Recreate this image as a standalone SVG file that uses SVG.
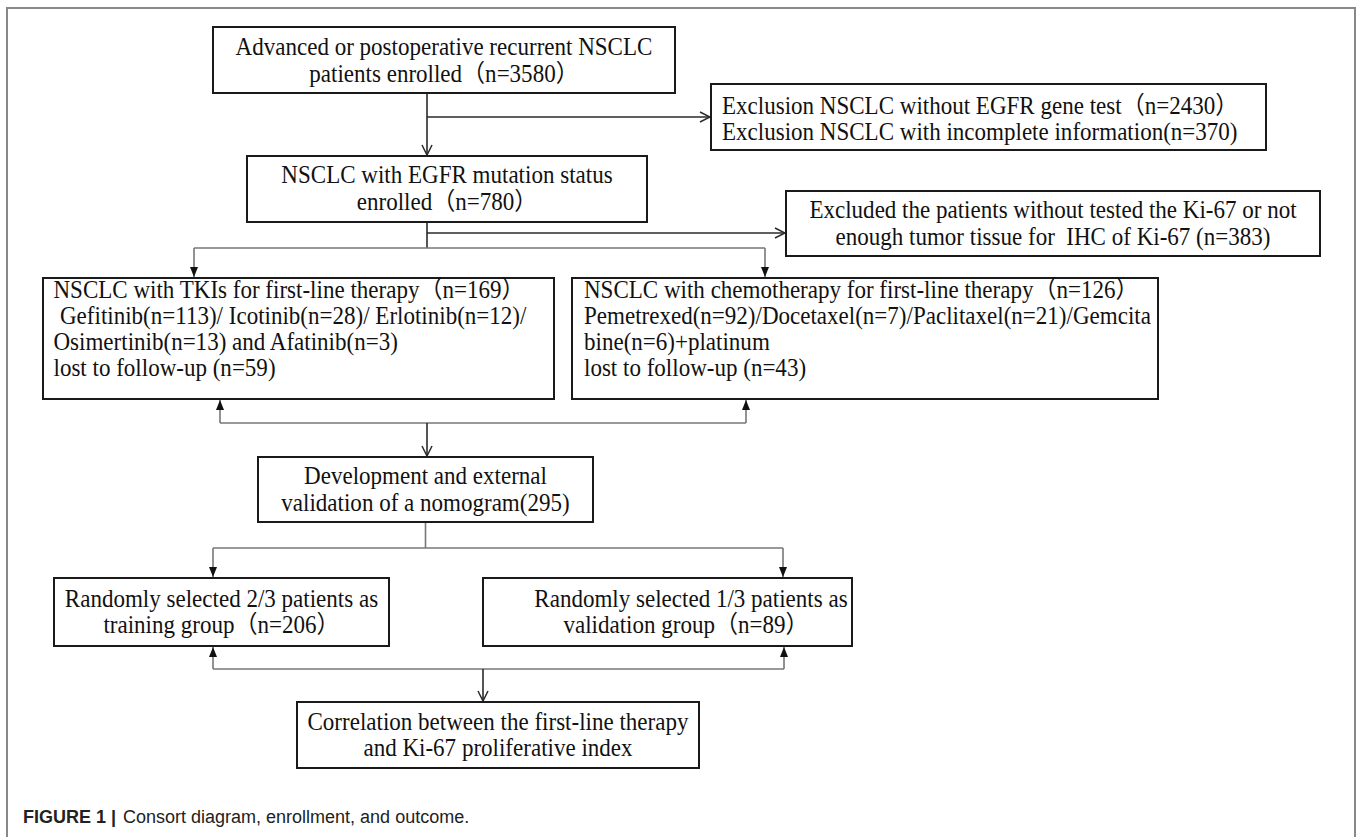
<svg xmlns="http://www.w3.org/2000/svg" width="1357" height="837" viewBox="0 0 1357 837">
<style>
.box{fill:#fff;stroke:#1a1a1a;stroke-width:2}
.t{font-family:"Liberation Serif","Noto Sans CJK SC",serif;font-size:24.5px;fill:#111;white-space:pre;transform-box:fill-box;transform-origin:left center;transform:scaleX(0.94)}
.c{text-anchor:middle;transform-origin:center center}
.ln{fill:none;stroke:#2a2a2a;stroke-width:1.6}
.lg{fill:none;stroke:#777;stroke-width:1.6}
.cap{font-family:"Liberation Sans",Arial,sans-serif;font-size:18px;fill:#222}
</style>
<defs>
<marker id="vopen" viewBox="0 0 12 12" refX="11" refY="6" markerWidth="12" markerHeight="12" markerUnits="userSpaceOnUse" orient="auto">
<path d="M1,1 L11,6 L1,11" fill="none" stroke="#2a2a2a" stroke-width="1.5"/>
</marker>
<marker id="tri" viewBox="0 0 10 8" refX="10" refY="4" markerWidth="10" markerHeight="8" markerUnits="userSpaceOnUse" orient="auto">
<path d="M0,0 L10,4 L0,8 Z" fill="#111"/>
</marker>
</defs>
<rect x="0" y="0" width="1357" height="837" fill="#fff"/>
<path d="M7,837 V8 H1355 V837" fill="none" stroke="#888" stroke-width="2"/>

<g id="connectors">
<path class="ln" d="M427,93 V155" marker-end="url(#vopen)"/>
<path class="ln" d="M427,117 H710" marker-end="url(#vopen)"/>
<path class="ln" d="M427,222 V248"/>
<path class="ln" d="M427,233 H785" marker-end="url(#vopen)"/>
<path class="lg" d="M194,248 H765"/>
<path class="lg" d="M194,248 V277" marker-end="url(#tri)"/>
<path class="lg" d="M765,248 V277" marker-end="url(#tri)"/>
<path class="lg" d="M220,423 H746"/>
<path class="lg" d="M220,423 V400" marker-end="url(#tri)"/>
<path class="lg" d="M746,423 V400" marker-end="url(#tri)"/>
<path class="ln" d="M427,423 V456" marker-end="url(#vopen)"/>
<path class="lg" d="M425.5,522 V548"/>
<path class="lg" d="M213,548 H783"/>
<path class="lg" d="M213,548 V577" marker-end="url(#tri)"/>
<path class="lg" d="M783,548 V577" marker-end="url(#tri)"/>
<path class="lg" d="M213,669 H784"/>
<path class="lg" d="M213,669 V647" marker-end="url(#tri)"/>
<path class="lg" d="M784,669 V647" marker-end="url(#tri)"/>
<path class="ln" d="M483,669 V701" marker-end="url(#vopen)"/>
</g>

<g id="n-enrolled">
<rect class="box" x="213" y="27" width="462" height="66"/>
<text class="t c" x="444" y="55">Advanced or postoperative recurrent NSCLC</text>
<text class="t c" x="444" y="82">patients enrolled（n=3580）</text>
</g>
<g id="n-exclusion1">
<rect class="box" x="711" y="84" width="555" height="66"/>
<text class="t" x="722" y="114">Exclusion NSCLC without EGFR gene test（n=2430）</text>
<text class="t" x="722" y="140">Exclusion NSCLC with incomplete information(n=370)</text>
</g>
<g id="n-egfr">
<rect class="box" x="247" y="156" width="400" height="66"/>
<text class="t c" x="447" y="183">NSCLC with EGFR mutation status</text>
<text class="t c" x="447" y="210">enrolled（n=780）</text>
</g>
<g id="n-exclusion2">
<rect class="box" x="786" y="191" width="534" height="65"/>
<text class="t c" x="1053" y="218">Excluded the patients without tested the Ki-67 or not</text>
<text class="t c" x="1053" y="245">enough tumor tissue for  IHC of Ki-67 (n=383)</text>
</g>
<g id="n-tki">
<rect class="box" x="43" y="278" width="511" height="121"/>
<text class="t" x="53.5" y="298">NSCLC with TKIs for first-line therapy（n=169）</text>
<text class="t" x="60" y="324">Gefitinib(n=113)/ Icotinib(n=28)/ Erlotinib(n=12)/</text>
<text class="t" x="53.5" y="350">Osimertinib(n=13) and Afatinib(n=3)</text>
<text class="t" x="53.5" y="376">lost to follow-up (n=59)</text>
</g>
<g id="n-chemo">
<rect class="box" x="572" y="278" width="586" height="121"/>
<text class="t" x="584" y="298">NSCLC with chemotherapy for first-line therapy（n=126）</text>
<text class="t" x="584" y="324">Pemetrexed(n=92)/Docetaxel(n=7)/Paclitaxel(n=21)/Gemcita</text>
<text class="t" x="584" y="350">bine(n=6)+platinum</text>
<text class="t" x="584" y="376">lost to follow-up (n=43)</text>
</g>
<g id="n-nomogram">
<rect class="box" x="258" y="457" width="335" height="65"/>
<text class="t c" x="425.5" y="484">Development and external</text>
<text class="t c" x="425.5" y="511">validation of a nomogram(295)</text>
</g>
<g id="n-training">
<rect class="box" x="54" y="578" width="335" height="68"/>
<text class="t c" x="221.5" y="607">Randomly selected 2/3 patients as</text>
<text class="t c" x="221.5" y="633">training group（n=206）</text>
</g>
<g id="n-validation">
<rect class="box" x="483" y="578" width="369" height="68"/>
<text class="t c" x="691" y="607">Randomly selected 1/3 patients as</text>
<text class="t c" x="686" y="633">validation group（n=89）</text>
</g>
<g id="n-correlation">
<rect class="box" x="297" y="702" width="402" height="66"/>
<text class="t c" x="498" y="730">Correlation between the first-line therapy</text>
<text class="t c" x="498" y="756">and Ki-67 proliferative index</text>
</g>

<text class="cap" y="823"><tspan x="23" font-weight="bold">FIGURE 1</tspan><tspan x="111" font-weight="bold">|</tspan><tspan x="123">Consort diagram, enrollment, and outcome.</tspan></text>
</svg>
